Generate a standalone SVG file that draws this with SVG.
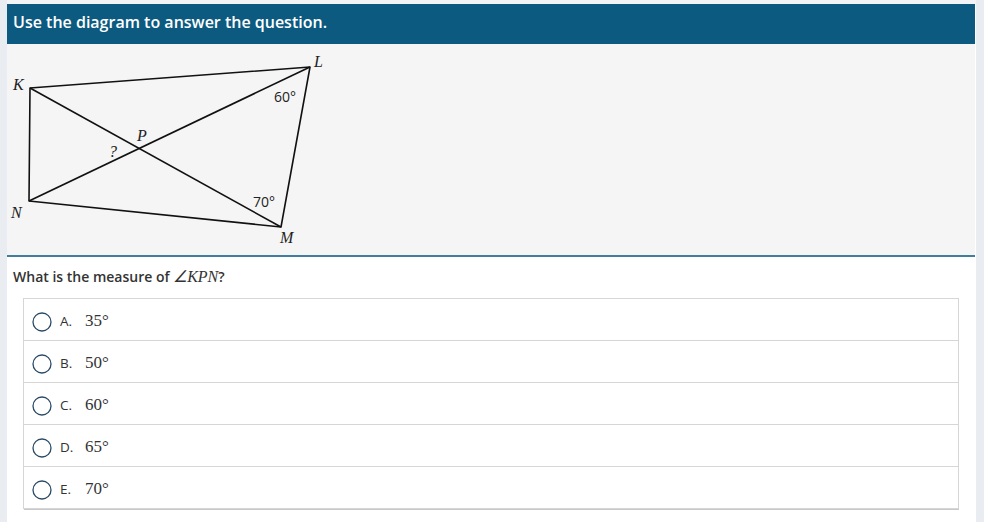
<svg xmlns="http://www.w3.org/2000/svg" width="984" height="522" viewBox="0 0 984 522">
<style>
.sans{font-family:"Open Sans","Noto Sans",sans-serif}
.it{font-family:"Liberation Serif","DejaVu Serif",serif;font-style:italic;font-size:16px;fill:#222}
.edge{stroke:#111;stroke-width:1.6;fill:none;stroke-linejoin:round}
.ang{font-family:"Open Sans",sans-serif;font-size:14px;fill:#222}
.opt{font-family:"Open Sans",sans-serif;font-size:13.5px;fill:#333}
.val{font-family:"Liberation Serif",serif;font-size:17px;fill:#333}
.rad{fill:#fff;stroke:#2a4a66;stroke-width:1.3}
.row{fill:#fff;stroke:#d6d6d6;stroke-width:1}
</style>
<rect width="984" height="522" fill="#ffffff"/>
<rect x="0" y="0" width="7" height="522" fill="#e9ecf1"/>
<rect x="976" y="0" width="8" height="522" fill="#e9ecf1"/>
<rect x="7" y="0" width="969" height="5" fill="#f3f4f6"/>
<g id="header">
<rect x="7" y="4" width="968" height="40" fill="#0c5a80"/>
<text x="13" y="28" class="sans" font-size="16" font-weight="600" fill="#ffffff">Use the diagram to answer the question.</text>
</g>
<rect x="7" y="44" width="968" height="211" fill="#f5f5f5"/>
<rect x="7" y="255" width="968" height="2" fill="#3f7f9d"/>
<g id="connectors">
<polygon class="edge" points="30,88 310,67 281,227 29,201"/>
<line class="edge" x1="30" y1="88" x2="281" y2="227"/>
<line class="edge" x1="29" y1="201" x2="310" y2="67"/>
</g>
<g id="node-K"><text x="13" y="90" class="it">K</text></g>
<g id="node-L"><text x="314" y="67" class="it">L</text></g>
<g id="node-M"><text x="280" y="243" class="it">M</text></g>
<g id="node-N"><text x="11" y="218" class="it">N</text></g>
<g id="node-P"><text x="137" y="141" class="it">P</text></g>
<g id="label-q"><text x="109" y="157" class="it">?</text></g>
<g id="label-60"><text x="274" y="102" class="ang">60°</text></g>
<g id="label-70"><text x="253" y="207" class="ang">70°</text></g>
<g id="question">
<text x="13" y="282" class="sans" font-size="14" font-weight="600" fill="#333">What is the measure of <tspan font-family="Liberation Serif,serif" font-style="italic" font-weight="400" font-size="16">∠KPN</tspan>?</text>
</g>
<rect x="24" y="300" width="935" height="210" fill="#c8c8c8"/>
<g id="opt-A"><rect class="row" x="23.5" y="298.5" width="935" height="42"/><circle class="rad" cx="42" cy="322" r="9"/><text x="60" y="326" class="opt">A.</text><text x="85" y="326" class="val">35°</text></g>
<g id="opt-B"><rect class="row" x="23.5" y="340.5" width="935" height="42"/><circle class="rad" cx="42" cy="364" r="9"/><text x="60" y="368" class="opt">B.</text><text x="85" y="368" class="val">50°</text></g>
<g id="opt-C"><rect class="row" x="23.5" y="382.5" width="935" height="42"/><circle class="rad" cx="42" cy="406" r="9"/><text x="60" y="410" class="opt">C.</text><text x="85" y="410" class="val">60°</text></g>
<g id="opt-D"><rect class="row" x="23.5" y="424.5" width="935" height="42"/><circle class="rad" cx="42" cy="448" r="9"/><text x="60" y="452" class="opt">D.</text><text x="85" y="452" class="val">65°</text></g>
<g id="opt-E"><rect class="row" x="23.5" y="466.5" width="935" height="42"/><circle class="rad" cx="42" cy="490" r="9"/><text x="60" y="494" class="opt">E.</text><text x="85" y="494" class="val">70°</text></g>
</svg>
